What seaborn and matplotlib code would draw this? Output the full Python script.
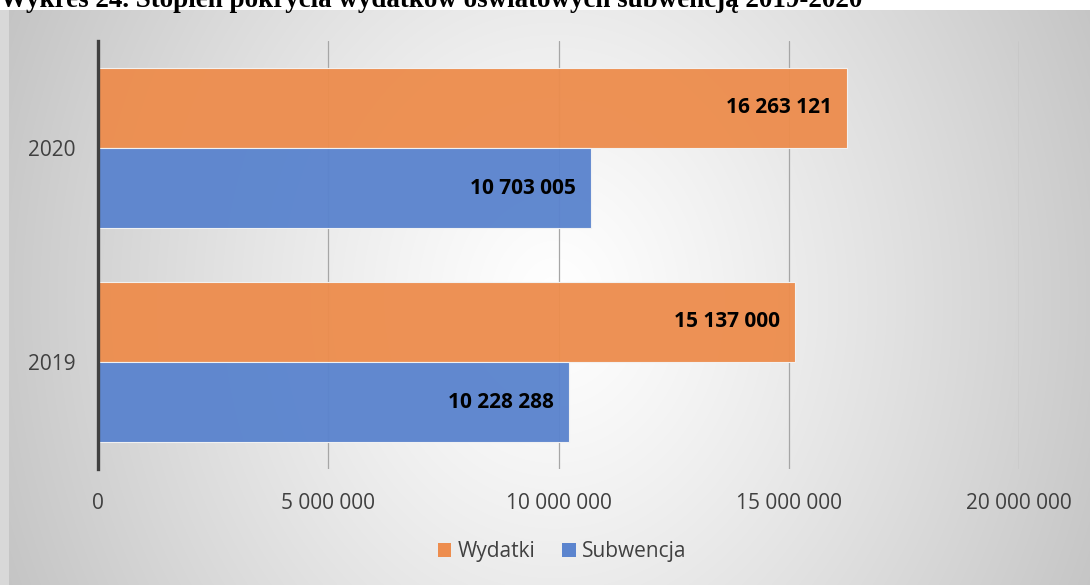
import numpy as np
import pandas as pd
import matplotlib
matplotlib.use("Agg")
import matplotlib.pyplot as plt
from matplotlib.patches import Patch, Rectangle
import seaborn as sns

# ---- data ----
years = ["2020", "2019"]
series = ["Wydatki", "Subwencja"]
wydatki = [16263121, 15137000]
subwencja = [10703005, 10228288]
xticks = [0, 5000000, 10000000, 15000000, 20000000]
title = "Wykres 24. Stopień pokrycia wydatków oświatowych subwencją 2019-2020"

colors = {"Wydatki": "#ED8D4E", "Subwencja": "#5B84CE"}

df = pd.DataFrame({
    "Rok": years * 2,
    "Seria": ["Wydatki"] * len(years) + ["Subwencja"] * len(years),
    "Wartosc": wydatki + subwencja,
})

sns.set_theme(style="white")
plt.rcParams["font.family"] = ["Open Sans", "DejaVu Sans"]

W, H = 1090, 585
fig = plt.figure(figsize=(W / 100, H / 100), dpi=100)
fig.patch.set_facecolor("white")

# background gradient panel
bx0, by0 = 9, 10
bg = fig.add_axes([bx0 / W, 0, 1 - bx0 / W, 1 - by0 / H], zorder=-5)
gw, gh = W - bx0, H - by0
yy, xx = np.mgrid[0:gh, 0:gw]
cx, cy = 545, 290
dx = (xx - cx) / (gw / 2)
dy = (yy - cy) / (gh / 2)
val = 255 - 52 * (dx ** 2 + 0.2 * dy ** 2) ** 0.6
val = np.clip(val, 0, 255) / 255.0
img = np.dstack([val, val, val])
bg.imshow(img, aspect="auto", extent=[0, 1, 0, 1], origin="upper")
bg.set_axis_off()
fig.patches.append(Rectangle((0, 0), bx0 / W, 1 - by0 / H, transform=fig.transFigure,
                             facecolor="#d8d8d8", edgecolor="none", zorder=-6))

# main axes
top_px, bot_px = 41, 469
ax = fig.add_axes([98 / W, 1 - bot_px / H, (1019 - 98) / W, (bot_px - top_px) / H])
ax.patch.set_alpha(0)

sns.barplot(data=df, y="Rok", x="Wartosc", hue="Seria", order=years,
            hue_order=series, palette=colors, orient="h", width=0.75,
            saturation=1, ax=ax, alpha=0.96, edgecolor="#f4f4f4",
            linewidth=0.8, legend=False)

ax.set_xlim(0, 20000000)
ax.set_ylim(1.5, -0.5)
ax.set_xticks(xticks)
ax.set_xticklabels([f"{v:,}".replace(",", " ") for v in xticks])
ax.tick_params(axis="x", length=0, pad=17, labelsize=15, colors="#404040")
ax.tick_params(axis="y", length=0, pad=16, labelsize=15, colors="#404040")
ax.set_xlabel("")
ax.set_ylabel("")

ax.grid(axis="x", color="#a6a6a6", linewidth=0.9, zorder=0)
ax.set_axisbelow(True)
for s in ["top", "right", "bottom"]:
    ax.spines[s].set_visible(False)
ax.spines["left"].set_color("#404040")
ax.spines["left"].set_linewidth(2.4)
ax.spines["left"].set_zorder(5)

for p in ax.patches:
    w = p.get_width()
    if w <= 0:
        continue
    yc = p.get_y() + p.get_height() / 2
    ax.annotate(f"{int(round(w)):,}".replace(",", " "), (w, yc), xytext=(-11, 0),
                textcoords="offset points", ha="right", va="center",
                fontsize=15, fontweight="bold", color="black")

handles = [Patch(facecolor=colors[s], edgecolor="none") for s in series]
ax.legend(handles, series, loc="center", bbox_to_anchor=(562 / W, 1 - 552 / H),
          bbox_transform=fig.transFigure, ncol=2, frameon=False,
          handlelength=0.65, handleheight=0.65, handletextpad=0.3, columnspacing=1.3,
          fontsize=15, labelcolor="#404040")

# title at the top, partly cut by the figure edge as in the reference
t = fig.text(0, 1 - 7 / H, title, family=["Liberation Serif", "DejaVu Serif"],
             fontweight="bold", fontsize=18, ha="left", va="baseline", color="black")
fig.canvas.draw()
wpx = t.get_window_extent().width
t.set_fontsize(18 * 862 / wpx)

fig.savefig("out.png", dpi=100)
